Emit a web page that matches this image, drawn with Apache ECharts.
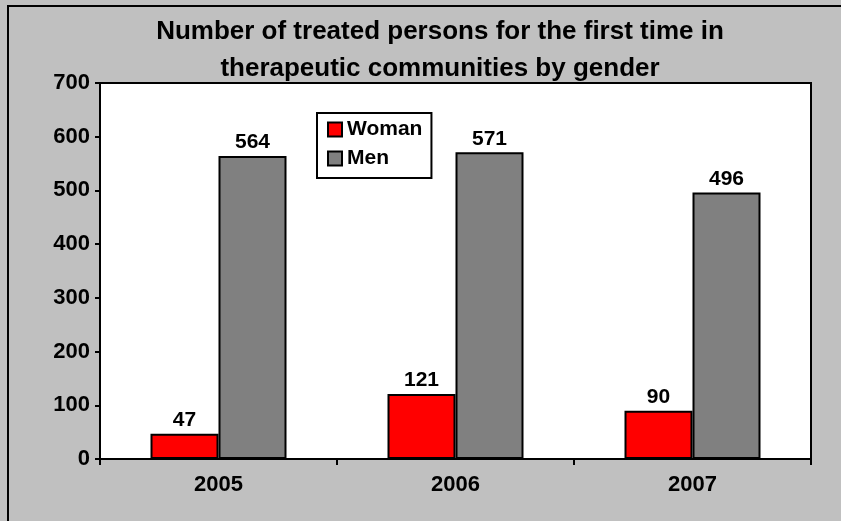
<!DOCTYPE html>
<html><head><meta charset="utf-8">
<script src="https://cdn.jsdelivr.net/npm/echarts@6/dist/echarts.min.js"></script>
<style>html,body{margin:0;padding:0;background:#c0c0c0}#c{width:841px;height:521px}</style>
</head><body><div id="c"></div>
<script>
const categories = ['2005', '2006', '2007'];
const woman = [47, 121, 90];
const men = [564, 571, 496];
const yTicks = [0, 100, 200, 300, 400, 500, 600, 700];

const chart = echarts.init(document.getElementById('c'), null, {renderer: 'canvas'});
const font = 'Liberation Sans, Arial, sans-serif';
chart.setOption({
  backgroundColor: '#c0c0c0',
  animation: false,
  title: {
    text: 'Number of treated persons for the first time in\ntherapeutic communities by gender',
    left: 435, top: 8, textAlign: 'center',
    textStyle: {fontFamily: font, fontWeight: 'bold', fontSize: 26, color: '#000', lineHeight: 37}
  },
  graphic: [{
    type: 'rect', shape: {x: 8, y: 6, width: 900, height: 600},
    style: {fill: 'none', stroke: '#000', lineWidth: 2}, silent: true
  }],
  legend: {
    orient: 'vertical', left: 317, top: 113,
    backgroundColor: '#fff', borderColor: '#000', borderWidth: 2,
    padding: [6, 9, 9, 10], itemGap: 8,
    itemWidth: 14, itemHeight: 14, icon: 'rect',
    textStyle: {fontFamily: font, fontWeight: 'bold', fontSize: 21, color: '#000'}
  },
  grid: {left: 100, top: 83, right: 30, bottom: 62, show: true, backgroundColor: '#fff', borderColor: '#000', borderWidth: 2},
  xAxis: {
    type: 'category', data: categories,
    axisLine: {lineStyle: {color: '#000', width: 2}},
    axisTick: {show: true, length: 6, lineStyle: {color: '#000', width: 2}},
    axisLabel: {fontFamily: font, fontWeight: 'bold', fontSize: 22, color: '#000', margin: 15}
  },
  yAxis: {
    type: 'value', min: 0, max: 700, interval: 100,
    splitLine: {show: false},
    axisLine: {show: true, lineStyle: {color: '#000', width: 2}},
    axisTick: {show: true, length: 5, lineStyle: {color: '#000', width: 2}},
    axisLabel: {fontFamily: font, fontWeight: 'bold', fontSize: 22, color: '#000', margin: 10,
      formatter: v => yTicks.includes(v) ? String(v) : ''}
  },
  series: [
    {name: 'Woman', type: 'bar', data: woman, barWidth: 68, barGap: '0%',
      itemStyle: {color: '#ff0000', borderColor: '#000', borderWidth: 2},
      label: {show: true, position: 'top', distance: 3, fontFamily: font, fontWeight: 'bold', fontSize: 21, color: '#000'}},
    {name: 'Men', type: 'bar', data: men, barWidth: 68, barGap: '0%',
      itemStyle: {color: '#808080', borderColor: '#000', borderWidth: 2},
      label: {show: true, position: 'top', distance: 3, fontFamily: font, fontWeight: 'bold', fontSize: 21, color: '#000'}}
  ]
});
</script></body></html>
